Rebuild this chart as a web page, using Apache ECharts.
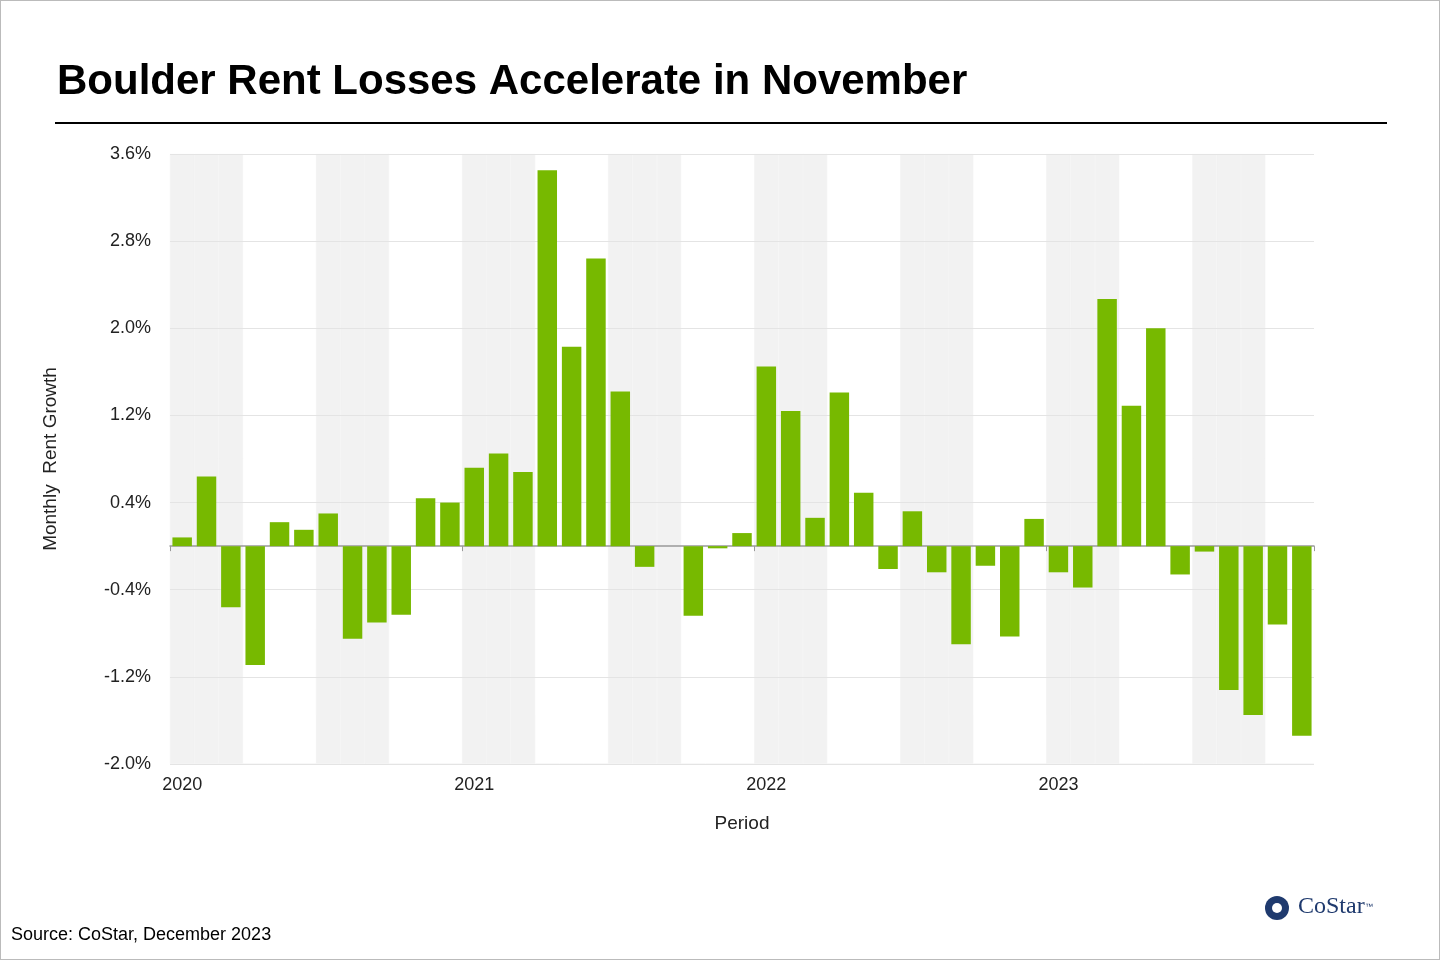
<!DOCTYPE html>
<html><head><meta charset="utf-8">
<script src="https://cdn.jsdelivr.net/npm/echarts@6/dist/echarts.min.js"></script>
<style>html,body{margin:0;padding:0;background:#fff}#c{width:1440px;height:960px;box-sizing:border-box;border:1px solid #bbb}</style>
</head><body><div id="c"></div>
<script>
const months = [];
for (let y = 2020; y <= 2023; y++) for (let m = 1; m <= 12; m++) if (!(y === 2023 && m === 12)) months.push(y + '-' + String(m).padStart(2, '0'));
const growth = [
  0.08, 0.64, -0.56, -1.09, 0.22, 0.15, 0.30, -0.85, -0.70, -0.63, 0.44, 0.40,
  0.72, 0.85, 0.68, 3.45, 1.83, 2.64, 1.42, -0.19, 0.0, -0.64, -0.02, 0.12,
  1.65, 1.24, 0.26, 1.41, 0.49, -0.21, 0.32, -0.24, -0.90, -0.18, -0.83, 0.25,
  -0.24, -0.38, 2.27, 1.29, 2.00, -0.26, -0.05, -1.32, -1.55, -0.72, -1.74
];
const shaded = months.map((m, i) => (Math.floor(i / 3) % 2 === 0 ? 1 : 0));
const chart = echarts.init(document.getElementById('c'));
chart.setOption({
  animation: false,
  textStyle: { fontFamily: 'Arial, Liberation Sans, sans-serif' },
  title: { text: 'Boulder Rent Losses Accelerate in November', left: 51, top: 55,
    textStyle: { fontSize: 42, fontWeight: 'bold', color: '#000' } },
  grid: { left: 169, right: 125, top: 153, bottom: 195 },
  xAxis: [
    { type: 'category', data: months, axisLine: { onZero: true, lineStyle: { color: '#999', width: 1.5 } },
      axisTick: { show: true, interval: 11, length: 5, inside: false, lineStyle: { color: '#999' } },
      axisLabel: { show: false }, splitLine: { show: false } },
    { type: 'category', data: months, position: 'bottom', axisLine: { show: false }, axisTick: { show: false },
      axisLabel: { interval: 11, fontSize: 18, color: '#222', margin: 12,
        formatter: v => v.slice(0, 4) },
      name: 'Period', nameLocation: 'middle', nameGap: 50, nameTextStyle: { fontSize: 19, color: '#222' } }
  ],
  yAxis: [
    { type: 'value', min: -2.0, max: 3.6, interval: 0.8,
      axisLabel: { fontSize: 18, color: '#222', margin: 19, formatter: v => v.toFixed(1) + '%' },
      axisLine: { show: false }, axisTick: { show: false },
      splitLine: { lineStyle: { color: '#e4e4e4' } },
      name: 'Monthly  Rent Growth', nameLocation: 'middle', nameGap: 110, nameRotate: 90,
      nameTextStyle: { fontSize: 19, color: '#222' } },
    { type: 'value', min: 0, max: 1, show: false, splitLine: { show: false } }
  ],
  series: [
    { type: 'bar', xAxisIndex: 1, yAxisIndex: 1, data: shaded, barWidth: '100%', z: -1, silent: true,
      itemStyle: { color: '#f2f2f2', borderColor: '#f2f2f2', borderWidth: 0.6 } },
    { type: 'bar', xAxisIndex: 0, yAxisIndex: 0, data: growth, barCategoryGap: '20%', z: 3,
      itemStyle: { color: '#77b900' } }
  ],
  graphic: [
    { type: 'line', shape: { x1: 54, y1: 122, x2: 1386, y2: 122 }, style: { stroke: '#000', lineWidth: 2 } },
    { type: 'text', left: 10, top: 925, style: { text: 'Source: CoStar, December 2023', fontSize: 18, fill: '#000', fontFamily: 'Arial' } },
    { type: 'circle', shape: { cx: 1276, cy: 907, r: 12 }, style: { fill: '#1f3a6e' } },
    { type: 'circle', shape: { cx: 1276, cy: 907, r: 5 }, style: { fill: '#fff' } },
    { type: 'text', left: 1297, top: 894, style: { text: 'CoStar', fontSize: 24, fill: '#1f3a6e', fontFamily: 'Liberation Serif, serif' } },
    { type: 'text', left: 1364, top: 902, style: { text: '™', fontSize: 8, fill: '#1f3a6e' } }
  ]
});
</script></body></html>
